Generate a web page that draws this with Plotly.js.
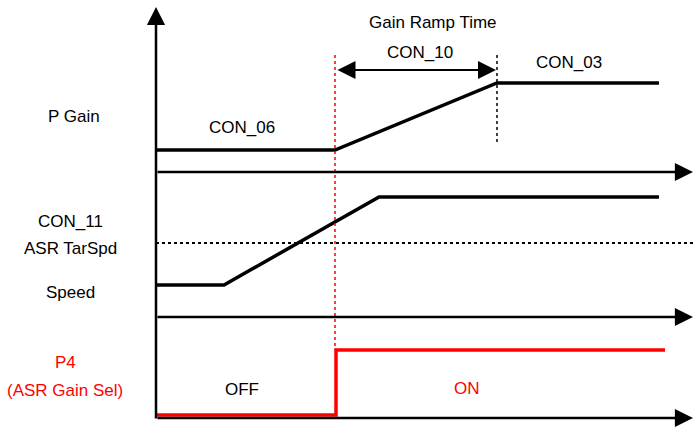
<!DOCTYPE html>
<html>
<head>
<meta charset="utf-8">
<script src="https://cdn.plot.ly/plotly-3.0.1.min.js"></script>
<style>html,body{margin:0;padding:0;background:#fff;}#chart{width:693px;height:429px;}</style>
</head>
<body>
<div id="chart"></div>
<script>
// Timing diagram data (x = time position, y = vertical level, in diagram units)
const pGainX = [156, 335, 497, 659];
const pGainY = [150, 150, 83, 83];
const speedX = [156, 224, 379, 659];
const speedY = [285, 285, 197, 197];
const p4X = [157, 336, 336, 665];
const p4Y = [415, 415, 350, 350];
const tarSpdX = [156, 693];
const tarSpdY = [243, 243];
const rampStartX = [335, 335];
const rampStartY = [55, 350];
const rampEndX = [497, 497];
const rampEndY = [55, 145];
const axisOriginX = 156;
const timeAxesY = [172, 317, 418];
const timeAxisEnd = 693;
const valueAxisTop = 7;
const valueAxisBottom = 420;
const rampArrowX = [336, 496];
const rampArrowY = 70;

const font = "Liberation Sans, Arial, sans-serif";

const traces = [
  {x: pGainX, y: pGainY, mode: 'lines', line: {color: '#000', width: 3.5}},
  {x: speedX, y: speedY, mode: 'lines', line: {color: '#000', width: 3.5}},
  {x: tarSpdX, y: tarSpdY, mode: 'lines', line: {color: '#000', width: 2, dash: 'dot'}},
  {x: rampStartX, y: rampStartY, mode: 'lines', line: {color: '#ff0000', width: 1.5, dash: 'dot'}},
  {x: rampEndX, y: rampEndY, mode: 'lines', line: {color: '#000', width: 1.5, dash: 'dot'}},
  {x: p4X, y: p4Y, mode: 'lines', line: {color: '#ff0000', width: 3.5}}
];

const ann = [];
// time axes with arrow heads
timeAxesY.forEach(function (yy) {
  ann.push({x: timeAxisEnd, y: yy, ax: axisOriginX, ay: yy, xref: 'x', yref: 'y', axref: 'x', ayref: 'y',
    showarrow: true, arrowhead: 2, arrowsize: 1.45, arrowwidth: 2.5, arrowcolor: '#000', text: ''});
});
// vertical axis
ann.push({x: axisOriginX, y: valueAxisTop, ax: axisOriginX, ay: valueAxisBottom, xref: 'x', yref: 'y', axref: 'x', ayref: 'y',
  showarrow: true, arrowhead: 2, arrowsize: 1.45, arrowwidth: 2.5, arrowcolor: '#000', text: ''});
// ramp time double arrow
ann.push({x: rampArrowX[1], y: rampArrowY, ax: rampArrowX[0], ay: rampArrowY, xref: 'x', yref: 'y', axref: 'x', ayref: 'y',
  showarrow: true, arrowhead: 2, arrowside: 'end+start', arrowsize: 1.8, arrowwidth: 2, arrowcolor: '#000', text: ''});

const labels = [
  ['Gain Ramp Time', 433, 22, '#000'],
  ['CON_10', 420, 52, '#000'],
  ['CON_03', 569, 62, '#000'],
  ['CON_06', 242, 127, '#000'],
  ['P Gain', 74, 116, '#000'],
  ['CON_11', 70, 221, '#000'],
  ['ASR TarSpd', 70, 248, '#000'],
  ['Speed', 70, 292, '#000'],
  ['P4', 65, 362, '#ff0000'],
  ['(ASR Gain Sel)', 65, 390, '#ff0000'],
  ['OFF', 242, 389, '#000'],
  ['ON', 467, 388, '#ff0000']
];
labels.forEach(function (l) {
  ann.push({text: l[0], x: l[1], y: l[2], xref: 'x', yref: 'y', showarrow: false,
    xanchor: 'center', yanchor: 'middle', font: {family: font, size: 17, color: l[3]}});
});

const layout = {
  width: 693, height: 429,
  margin: {l: 0, r: 0, t: 0, b: 0},
  paper_bgcolor: '#fff', plot_bgcolor: '#fff',
  showlegend: false,
  xaxis: {range: [0, 693], visible: false, fixedrange: true},
  yaxis: {range: [429, 0], visible: false, fixedrange: true},
  annotations: ann
};

Plotly.newPlot('chart', traces, layout, {displayModeBar: false, staticPlot: true});
</script>
</body>
</html>
